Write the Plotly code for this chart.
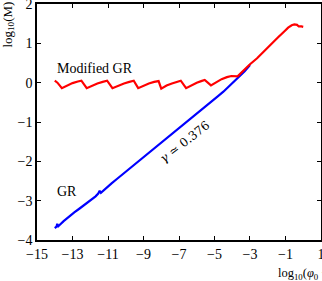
import plotly.graph_objects as go

# GR branch (blue)
gr_x = [-14.0, -13.9, -13.86, -13.8, -13.5, -13.2, -12.9, -12.6, -12.3, -12.0,
        -11.7, -11.55, -11.47, -11.4, -11.1, -10.8, -10.5, -10.2, -9.9, -9.6,
        -9.3, -9.0, -8.7, -8.4, -8.1, -7.8, -7.5, -7.2, -6.9, -6.6, -6.3, -6.0,
        -5.7, -5.4, -5.1, -4.8, -4.5, -4.2, -3.9, -3.6, -3.3, -3.0]
gr_y = [-3.70, -3.66, -3.59, -3.65, -3.52, -3.40, -3.30, -3.20, -3.10, -2.99,
        -2.89, -2.82, -2.75, -2.80, -2.67, -2.56, -2.45, -2.34, -2.22, -2.11,
        -2.00, -1.88, -1.77, -1.66, -1.55, -1.44, -1.33, -1.22, -1.11, -1.00,
        -0.89, -0.78, -0.67, -0.56, -0.45, -0.34, -0.23, -0.10, 0.02, 0.15,
        0.29, 0.45]

# Modified GR branch (red)
mod_x = [-14.0, -13.85, -13.6, -13.3, -13.0, -12.7, -12.5, -12.2, -11.9, -11.6,
         -11.3, -11.05, -10.75, -10.4, -10.1, -9.8, -9.55, -9.3, -9.0, -8.7,
         -8.4, -8.15, -8.0, -7.7, -7.4, -7.1, -6.9, -6.6, -6.3, -6.0, -5.75,
         -5.55, -5.2, -4.9, -4.6, -4.3, -4.05, -3.7, -3.4, -3.0, -2.6, -2.3,
         -2.0, -1.7, -1.4, -1.1, -0.85, -0.65, -0.5, -0.35, -0.25, -0.1, 0.0]
mod_y = [0.05, 0.0, -0.14, -0.07, -0.01, 0.03, 0.05, -0.14, -0.07, -0.02,
         0.02, 0.05, -0.14, -0.07, -0.02, 0.02, 0.05, -0.14, -0.07, -0.02,
         0.02, 0.04, -0.15, -0.07, -0.02, 0.03, 0.05, -0.14, -0.06, 0.0, 0.04,
         0.07, -0.07, 0.02, 0.09, 0.14, 0.17, 0.16, 0.30, 0.47, 0.62, 0.76,
         0.88, 1.02, 1.16, 1.29, 1.40, 1.46, 1.48, 1.47, 1.43, 1.43, 1.42]

x_ticks = [-15, -13, -11, -9, -7, -5, -3, -1, 1]
y_ticks = [-4, -3, -2, -1, 0, 1, 2]

FONT = "Liberation Serif"

fig = go.Figure()
fig.add_trace(go.Scatter(x=gr_x, y=gr_y, mode="lines",
                         line=dict(color="#0000ff", width=2.2)))
fig.add_trace(go.Scatter(x=mod_x, y=mod_y, mode="lines",
                         line=dict(color="#ff0000", width=2.2)))

axis_common = dict(showgrid=False, zeroline=False, showline=True,
                   linecolor="black", linewidth=1.5, mirror="ticks",
                   ticks="inside", ticklen=4, tickcolor="black", tickwidth=1,
                   automargin=False, ticklabeloverflow="allow",
                   tickfont=dict(family=FONT, size=14, color="black"))

fig.update_layout(
    width=322, height=281,
    margin=dict(l=37, r=1, t=4, b=41, autoexpand=False),
    plot_bgcolor="white", paper_bgcolor="white",
    showlegend=False,
    font=dict(family=FONT, size=14, color="black"),
    xaxis=dict(range=[-15.001, 1.001], tickvals=x_ticks,
               ticktext=[str(v).replace("-", "−") for v in x_ticks],
               **axis_common),
    yaxis=dict(range=[-4.001, 2.001], tickvals=y_ticks,
               ticktext=[str(v).replace("-", "−") for v in y_ticks],
               **axis_common),
    annotations=[
        dict(x=-14.0, y=0.37, text="Modified GR", showarrow=False,
             xanchor="left", yanchor="middle", font=dict(size=14)),
        dict(x=-14.0, y=-2.77, text="GR", showarrow=False,
             xanchor="left", yanchor="middle", font=dict(size=14)),
        dict(x=-6.69, y=-1.50, text="<i>γ</i> ≃ 0.376", showarrow=False,
             textangle=-38, font=dict(family="DejaVu Serif", size=12)),
        dict(x=-0.10, y=1.017, xref="paper", yref="paper",
             text="log<sub>10</sub>(M)", showarrow=False, textangle=-90,
             xanchor="center", yanchor="top", font=dict(size=13)),
        dict(x=0.8415, y=-0.14, xref="paper", yref="paper",
             text="log<sub>10</sub>(<i>φ</i><sub>0</sub> − <i>φ</i><sup>*</sup><sub>0</sub>)",
             showarrow=False, xanchor="left", yanchor="middle",
             font=dict(size=12.5)),
    ],
)

# drop the default page margin so the figure sits at the window's corner
fig.write_html("out.html", config={"displayModeBar": False},
               post_script="document.body.style.margin='0px';")
